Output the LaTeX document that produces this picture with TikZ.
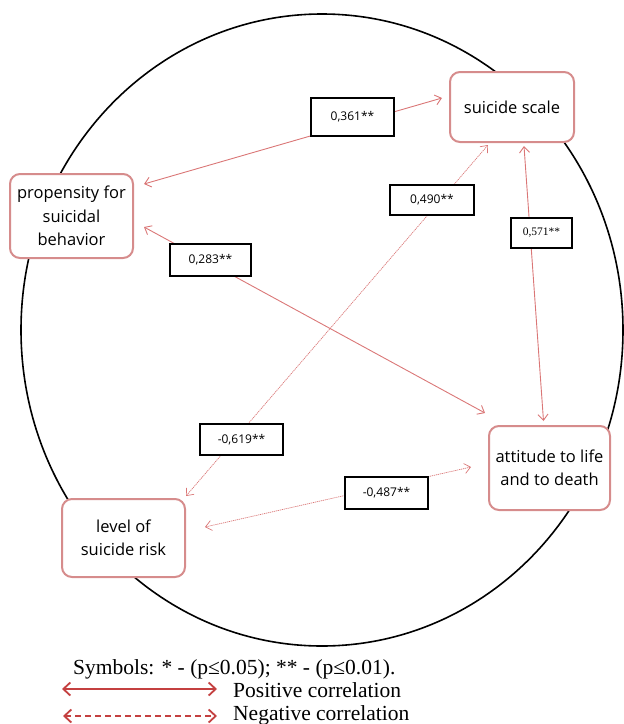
\documentclass[tikz,border=0pt]{standalone}
\usepackage{fontspec}
\setmainfont{Open Sans}
\newfontfamily\legendfont{Liberation Serif}
\usepackage{tikz}
\usetikzlibrary{arrows.meta}
\usetikzlibrary{calc}
\definecolor{boxred}{RGB}{214,140,140}
\definecolor{linkred}{RGB}{218,118,118}
\definecolor{legendred}{RGB}{196,64,64}

\begin{document}
\begin{tikzpicture}[x=1pt, y=-1pt,
  every node/.style={align=center, font=\fontsize{16.5}{23.5}\selectfont},
  box/.style={draw=boxred, line width=2pt, rounded corners=10pt, fill=white, inner sep=0pt},
  coef/.style={draw, line width=1.3pt, fill=white, inner sep=0pt, font=\fontsize{12}{14}\selectfont},
  poslink/.style={draw=linkred, line width=0.9pt, {Straight Barb[length=6pt,width=10pt]}-{Straight Barb[length=6pt,width=10pt]}},
  neglink/.style={poslink, line width=0.7pt, dash pattern=on 1.2pt off 0.8pt},
  legtext/.style={anchor=base west, inner sep=0pt, font=\legendfont\fontsize{21.5}{24}\selectfont},
  legarrow/.style={draw=legendred, line width=1.8pt, {Straight Barb[length=7pt,width=13pt]}-{Straight Barb[length=7pt,width=13pt]}}
]
\useasboundingbox (0,0) rectangle (624,724);
\draw[line width=1.6pt] (322,330) ellipse [x radius=301, y radius=316];

\node[box, minimum width=124pt, minimum height=70pt] (scale) at (512,107) {suicide scale};
\node[box, minimum width=123pt, minimum height=84pt] (prop) at (71.5,216) {propensity for\\suicidal\\behavior};
\node[box, minimum width=121pt, minimum height=84pt] (att) at (549.5,468) {attitude to life\\and to death};
\node[box, minimum width=123pt, minimum height=78pt] (risk) at (123.5,538) {level of\\suicide risk};

\draw[poslink] ([shift={(10,11)}]prop.north east) -- ([shift={(-7,-9)}]scale.west);
\draw[poslink] ([shift={(10,11)}]prop.east) -- ([shift={(-3,-12)}]att.north west);
\draw[poslink] ([shift={(12,3)}]scale.south) -- ([shift={(-6,-4)}]att.north);
\draw[neglink] ([shift={(-24,2)}]scale.south) -- ([shift={(0,-2)}]risk.north east);
\draw[neglink] ([shift={(-17,-1)}]att.west) -- ([shift={(19,-11)}]risk.east);

\node[coef, minimum width=83pt, minimum height=38pt] (c361) at (352.5,117) {0,361**};
\node[coef, minimum width=84pt, minimum height=30pt] (c490) at (432,200) {0,490**};
\node[coef, minimum width=61pt, minimum height=30pt, font=\legendfont\fontsize{11.5}{13}\selectfont] (c571) at (541.5,233) {0,571**};
\node[coef, minimum width=81pt, minimum height=32pt] (c283) at (210.5,260) {0,283**};
\node[coef, minimum width=83pt, minimum height=31pt] (c619) at (241.5,439.5) {-0,619**};
\node[coef, minimum width=83pt, minimum height=32pt] (c487) at (386.5,493) {-0,487**};

\node[legtext] (symbols) at (73,674) {Symbols: * - (p≤0.05); ** - (p≤0.01).};
\coordinate (posL) at (62,689);
\coordinate (posR) at (217,689);
\coordinate (negL) at (63,716);
\coordinate (negR) at (217,716);
\draw[legarrow] (posL) -- (posR);
\draw[legarrow, dash pattern=on 6pt off 4pt] (negL) -- (negR);
\node[legtext] (postext) at (233,697) {Positive correlation};
\node[legtext] (negtext) at (233,720) {Negative correlation};
\end{tikzpicture}
\end{document}
